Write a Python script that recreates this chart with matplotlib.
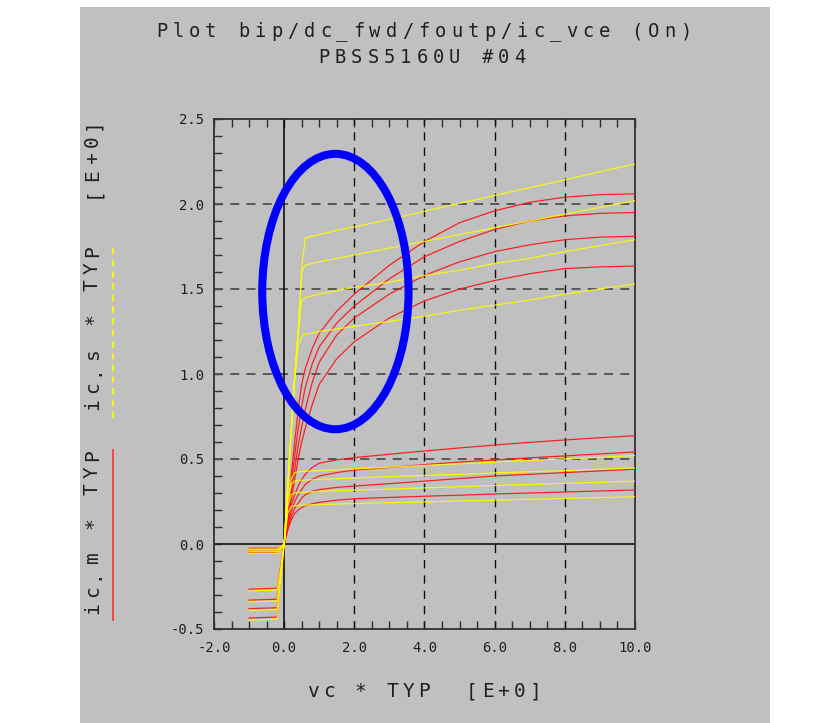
import matplotlib
matplotlib.use("Agg")
import matplotlib.pyplot as plt
from matplotlib.patches import Ellipse, Rectangle
from matplotlib.lines import Line2D

plt.rcParams['axes.unicode_minus'] = False
MONO = 'DejaVu Sans Mono'

# collector voltage sweep
vce = [-1.0, -0.2, -0.1, 0.0, 0.1, 0.2, 0.3, 0.4, 0.5, 0.6, 0.8, 1.0,
       1.5, 2.0, 3.0, 4.0, 5.0, 6.0, 7.0, 8.0, 9.0, 10.0]

# ic.m (measured), high base currents
ic_m_1 = [-0.435, -0.43, -0.20, 0.0, 0.20, 0.40, 0.60, 0.79, 0.94, 1.03, 1.15, 1.24,
          1.37, 1.47, 1.64, 1.78, 1.89, 1.96, 2.01, 2.04, 2.055, 2.06]
ic_m_2 = [-0.38, -0.375, -0.18, 0.0, 0.17, 0.35, 0.52, 0.68, 0.81, 0.92, 1.06, 1.16,
          1.30, 1.40, 1.56, 1.69, 1.78, 1.85, 1.90, 1.93, 1.945, 1.95]
ic_m_3 = [-0.33, -0.325, -0.16, 0.0, 0.15, 0.30, 0.44, 0.58, 0.69, 0.79, 0.95, 1.07,
          1.23, 1.33, 1.47, 1.58, 1.66, 1.72, 1.76, 1.79, 1.805, 1.81]
ic_m_4 = [-0.266, -0.26, -0.13, 0.0, 0.13, 0.26, 0.38, 0.50, 0.60, 0.68, 0.82, 0.94,
          1.09, 1.19, 1.33, 1.43, 1.50, 1.55, 1.59, 1.62, 1.63, 1.635]
# ic.m, low base currents
ic_m_5 = [-0.05, -0.05, -0.03, 0.0, 0.13, 0.23, 0.29, 0.34, 0.38, 0.41, 0.45, 0.475,
          0.495, 0.508, 0.528, 0.547, 0.565, 0.582, 0.598, 0.612, 0.625, 0.637]
ic_m_6 = [-0.045, -0.045, -0.025, 0.0, 0.11, 0.19, 0.25, 0.29, 0.32, 0.35, 0.38, 0.40,
          0.42, 0.435, 0.45, 0.467, 0.482, 0.494, 0.507, 0.518, 0.53, 0.541]
ic_m_7 = [-0.035, -0.035, -0.02, 0.0, 0.09, 0.16, 0.21, 0.24, 0.27, 0.29, 0.31, 0.32,
          0.333, 0.341, 0.355, 0.37, 0.385, 0.40, 0.41, 0.42, 0.43, 0.44]
ic_m_8 = [-0.025, -0.025, -0.015, 0.0, 0.08, 0.14, 0.18, 0.20, 0.215, 0.225, 0.237, 0.245,
          0.258, 0.266, 0.274, 0.281, 0.287, 0.294, 0.30, 0.306, 0.312, 0.318]

# ic.s (simulated), high base currents
ic_s_1 = [-0.45, -0.44, -0.21, 0.0, 0.33, 0.66, 0.98, 1.25, 1.62, 1.80, 1.81, 1.82,
          1.845, 1.865, 1.91, 1.957, 2.004, 2.05, 2.096, 2.142, 2.19, 2.235]
ic_s_2 = [-0.39, -0.385, -0.19, 0.0, 0.33, 0.66, 0.98, 1.25, 1.60, 1.64, 1.65, 1.66,
          1.68, 1.70, 1.74, 1.78, 1.82, 1.86, 1.90, 1.94, 1.98, 2.02]
ic_s_3 = [-0.34, -0.335, -0.17, 0.0, 0.33, 0.66, 0.98, 1.25, 1.43, 1.45, 1.46, 1.47,
          1.49, 1.51, 1.54, 1.58, 1.61, 1.65, 1.68, 1.72, 1.755, 1.79]
ic_s_4 = [-0.275, -0.27, -0.14, 0.0, 0.33, 0.66, 0.98, 1.17, 1.22, 1.235, 1.24, 1.25,
          1.265, 1.28, 1.31, 1.34, 1.375, 1.405, 1.435, 1.47, 1.50, 1.53]
# ic.s, low base currents
ic_s_5 = [-0.055, -0.055, -0.03, 0.0, 0.25, 0.38, 0.42, 0.425, 0.427, 0.428, 0.43, 0.432,
          0.437, 0.442, 0.452, 0.462, 0.472, 0.482, 0.492, 0.50, 0.51, 0.52]
ic_s_6 = [-0.045, -0.045, -0.025, 0.0, 0.24, 0.35, 0.37, 0.373, 0.375, 0.376, 0.378, 0.38,
          0.384, 0.388, 0.396, 0.403, 0.41, 0.418, 0.425, 0.432, 0.44, 0.447]
ic_s_7 = [-0.035, -0.035, -0.02, 0.0, 0.22, 0.29, 0.30, 0.302, 0.304, 0.305, 0.307, 0.309,
          0.313, 0.317, 0.323, 0.33, 0.337, 0.344, 0.35, 0.357, 0.363, 0.37]
ic_s_8 = [-0.03, -0.03, -0.015, 0.0, 0.18, 0.22, 0.225, 0.227, 0.228, 0.229, 0.23, 0.232,
          0.235, 0.238, 0.243, 0.248, 0.253, 0.258, 0.263, 0.268, 0.273, 0.278]

ic_m = [ic_m_1, ic_m_2, ic_m_3, ic_m_4, ic_m_5, ic_m_6, ic_m_7, ic_m_8]
ic_s = [ic_s_1, ic_s_2, ic_s_3, ic_s_4, ic_s_5, ic_s_6, ic_s_7, ic_s_8]

x_ticks = [-2, 0, 2, 4, 6, 8, 10]
y_ticks = [-0.5, 0.0, 0.5, 1.0, 1.5, 2.0, 2.5]

# highlight ellipse (data units)
ell_center = (1.46, 1.485)
ell_w, ell_h = 4.17, 1.62

W, H = 818, 723
BG = '#c0c0c0'
fig = plt.figure(figsize=(W / 100, H / 100), dpi=100, facecolor='white')
fig.patches.append(Rectangle((80 / W, 0), 690 / W, 1 - 7 / H, transform=fig.transFigure,
                             facecolor=BG, edgecolor='none', zorder=-10))

ax = fig.add_axes([214 / W, 1 - 629 / H, 421 / W, 510 / H])
ax.set_facecolor(BG)

for y in ic_m:
    ax.plot(vce, y, color='#ff1010', lw=0.9, alpha=0.9, zorder=3)
for y in ic_s:
    ax.plot(vce, y, color='#ffff00', lw=0.9, alpha=0.85, zorder=4)

# grid
for gx in x_ticks[2:-1]:
    ax.axvline(gx, color='#101010', lw=1.0, dashes=(6, 5), zorder=2)
for gy in y_ticks[2:-1]:
    ax.axhline(gy, color='#505050', lw=1.3, dashes=(5, 4), zorder=2)
ax.axvline(0, color='black', lw=1.1, zorder=2)
ax.axhline(0, color='#202020', lw=1.3, zorder=2)

ax.add_patch(Ellipse(ell_center, ell_w, ell_h, fill=False, edgecolor='#0000ff', lw=5.8, zorder=6))

ax.set_xlim(-2, 10)
ax.set_ylim(-0.5, 2.5)
ax.set_xticks(x_ticks)
ax.set_yticks(y_ticks)
ax.set_xticks([v / 2 for v in range(-4, 21)], minor=True)
ax.set_yticks([v / 10 for v in range(-5, 26)], minor=True)
ax.set_xticklabels(['%.1f' % v for v in x_ticks], family=MONO, fontsize=10, color='#202020')
ax.set_yticklabels(['%.1f' % v for v in y_ticks], family=MONO, fontsize=10, color='#202020')
ax.tick_params(which='both', direction='in', length=6, width=1, color='#303030',
               top=True, right=False)
ax.tick_params(axis='x', pad=9)
ax.tick_params(axis='y', pad=7)
for s in ax.spines.values():
    s.set_color('#303030')
    s.set_linewidth(1.3)


def spaced(text, cx, base, pitch, size, rot=0):
    # plotter style text: one character per fixed pitch (pixels)
    n = len(text)
    for i, ch in enumerate(text):
        off = (i - (n - 1) / 2) * pitch
        if rot == 0:
            x, y = cx + off, base
        else:
            x, y = base, cx - off
        fig.text(x / W, 1 - y / H, ch, family=MONO, fontsize=size, color='#202020',
                 ha='center', va='baseline', rotation=rot, rotation_mode='anchor')


spaced('Plot bip/dc_fwd/foutp/ic_vce (On)', 424, 37, 16.4, 13.5)
spaced('PBSS5160U #04', 422, 63, 16.3, 13.5)
spaced('vc * TYP  [E+0]', 424, 697, 15.9, 14)
spaced('ic.m * TYP', 532, 98, 17, 14, rot=90)
spaced('ic.s * TYP', 328, 98, 17, 14, rot=90)
spaced('[E+0]', 158, 98, 17, 14, rot=90)

# legend strokes beside the y label
fig.add_artist(Line2D([113 / W, 113 / W], [1 - 620 / H, 1 - 450 / H], color='#ff3030', lw=1.2))
fig.add_artist(Line2D([113 / W, 113 / W], [1 - 418 / H, 1 - 243 / H], color='#ffff00', lw=1.2,
                      dashes=(4, 3)))

fig.savefig('out.png', dpi=100, facecolor='white')
